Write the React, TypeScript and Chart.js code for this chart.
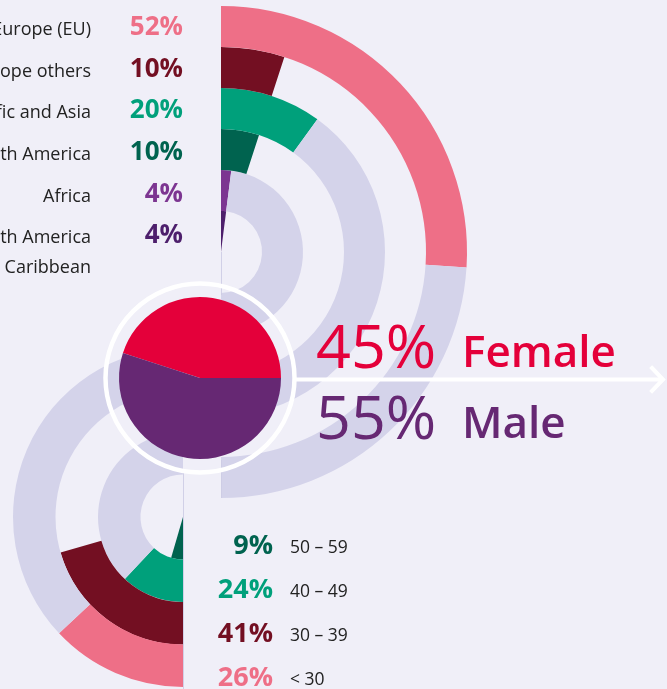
import React, { useEffect, useRef } from "react";
import { Chart, registerables } from "chart.js";

Chart.register(...registerables);

const W = 667;
const H = 689;
const BG = "#f0eff8";
const LAV = "#d4d3ea";
const FONT = "'Open Sans', 'Noto Sans', sans-serif";

// Regions (upper half-rings, outermost first)
const regionLabels = ["Europe (EU)", "Europe others", "Pacific and Asia", "North America", "Africa", "South America\nand Caribbean"];
const regionValues = [52, 10, 20, 10, 4, 4];
const regionColors = ["#ee6f87", "#730f22", "#00a07b", "#00634f", "#7c3591", "#4d1f6c"];
const regionRest = [LAV, "rgba(0,0,0,0)", LAV, "rgba(0,0,0,0)", LAV, "rgba(0,0,0,0)"];

// Age groups (lower half-rings); listed top to bottom as in the legend
const ageLabels = ["50 – 59", "40 – 49", "30 – 39", "< 30"];
const ageValues = [9, 24, 41, 26];
const ageColors = ["#00634f", "#00a07b", "#730f22", "#ee6f87"];
const ageRest = ["rgba(0,0,0,0)", LAV, "rgba(0,0,0,0)", LAV];

// Gender pie
const genderLabels = ["Female", "Male"];
const genderValues = [45, 55];
const genderColors = ["#e4003a", "#662873"];

type TxtProps = {
  x: number;
  y: number;
  size: number;
  weight?: number;
  color: string;
  align?: "left" | "right";
  children: React.ReactNode;
};

function Txt({ x, y, size, weight = 400, color, align = "left", children }: TxtProps) {
  const style: React.CSSProperties = {
    position: "absolute",
    top: y - size * 0.888,
    fontFamily: FONT,
    fontSize: size,
    fontWeight: weight,
    lineHeight: `${size}px`,
    color,
    whiteSpace: "nowrap",
  };
  if (align === "right") {
    style.right = W - x;
    style.textAlign = "right";
  } else {
    style.left = x;
  }
  return <div style={style}>{children}</div>;
}

export default function App() {
  const upRef = useRef<HTMLCanvasElement>(null);
  const lowRef = useRef<HTMLCanvasElement>(null);
  const pieRef = useRef<HTMLCanvasElement>(null);

  useEffect(() => {
    document.body.style.margin = "0";
    document.body.style.background = BG;
    const base: any = {
      responsive: false,
      animation: false,
      events: [],
      plugins: { legend: { display: false }, tooltip: { enabled: false } },
    };

    const upR = 246;
    const up = new Chart(upRef.current!, {
      type: "doughnut",
      data: {
        labels: ["share", "rest"],
        datasets: regionValues.map((v, i) => ({
          data: [v, 100 - v],
          backgroundColor: [regionColors[i], regionRest[i]],
          borderWidth: 0,
        })),
      },
      options: {
        ...base,
        cutout: 0,
        rotation: 0,
        circumference: 180,
        layout: { padding: { left: 221, top: 252 - upR, right: W - 221 - upR, bottom: H - (252 + upR) } },
      },
    });

    const lowR = 170;
    const rings = [...ageValues].reverse();
    const ringColors = [...ageColors].reverse();
    const ringRest = [...ageRest].reverse();
    const low = new Chart(lowRef.current!, {
      type: "doughnut",
      data: {
        labels: ["share", "rest"],
        datasets: rings.map((v, i) => ({
          data: [v, 100 - v],
          backgroundColor: [ringColors[i], ringRest[i]],
          borderWidth: 0,
        })),
      },
      options: {
        ...base,
        cutout: 0,
        rotation: 180,
        circumference: 180,
        layout: { padding: { left: 183 - lowR, top: 517 - lowR, right: W - 183, bottom: H - (517 + lowR) } },
      },
    });

    const cx = 200;
    const cy = 378;
    const pr = 81;
    const ringPlugin = {
      id: "whiteRing",
      beforeDraw(chart: any) {
        const ctx = chart.ctx;
        ctx.save();
        ctx.strokeStyle = "rgba(205,204,228,0.9)";
        ctx.lineWidth = 1;
        ctx.beginPath();
        ctx.moveTo(183.5, 470);
        ctx.lineTo(183.5, H);
        ctx.moveTo(221.5, 252);
        ctx.lineTo(221.5, 295);
        ctx.moveTo(221.5, 460);
        ctx.lineTo(221.5, 498);
        ctx.stroke();
        ctx.restore();
      },
      afterDraw(chart: any) {
        const ctx = chart.ctx;
        ctx.save();
        ctx.strokeStyle = "#ffffff";
        ctx.lineWidth = 4.5;
        ctx.beginPath();
        ctx.arc(cx, cy, 94.5, 0, Math.PI * 2);
        ctx.stroke();
        ctx.lineWidth = 4;
        ctx.beginPath();
        ctx.moveTo(cx + 96, 379.5);
        ctx.lineTo(662, 379.5);
        ctx.stroke();
        ctx.lineCap = "square";
        ctx.beginPath();
        ctx.moveTo(652, 368);
        ctx.lineTo(663, 379.5);
        ctx.lineTo(652, 391);
        ctx.stroke();
        ctx.restore();
      },
    };
    const pie = new Chart(pieRef.current!, {
      type: "pie",
      data: {
        labels: genderLabels,
        datasets: [{ data: genderValues, backgroundColor: genderColors, borderWidth: 0 }],
      },
      options: {
        ...base,
        rotation: -72,
        layout: { padding: { left: cx - pr, top: cy - pr, right: W - (cx + pr), bottom: H - (cy + pr) } },
      },
      plugins: [ringPlugin],
    });

    return () => {
      up.destroy();
      low.destroy();
      pie.destroy();
    };
  }, []);

  const canvasStyle: React.CSSProperties = { position: "absolute", left: 0, top: 0, width: W, height: H };
  const regionBaselines = [35, 77, 118, 160, 202, 243];
  const ageBaselines = [554, 598, 642, 686];

  return (
    <div style={{ position: "fixed", left: 0, top: 0, width: W, height: H, background: BG, overflow: "hidden" }}>
      <canvas ref={upRef} width={W} height={H} style={canvasStyle} />
      <canvas ref={lowRef} width={W} height={H} style={canvasStyle} />
      <canvas ref={pieRef} width={W} height={H} style={canvasStyle} />
      {regionLabels.map((lab, i) =>
        lab.split("\n").map((line, j) => (
          <Txt key={`rl${i}-${j}`} x={91} y={regionBaselines[i] + j * 30} size={18} color="#222" align="right">
            {line}
          </Txt>
        ))
      )}
      {regionValues.map((v, i) => (
        <Txt key={`rv${i}`} x={183} y={regionBaselines[i]} size={26} weight={700} color={regionColors[i]} align="right">
          {v}%
        </Txt>
      ))}
      {ageValues.map((v, i) => (
        <Txt key={`av${i}`} x={273} y={ageBaselines[i]} size={27} weight={700} color={ageColors[i]} align="right">
          {v}%
        </Txt>
      ))}
      {ageLabels.map((lab, i) => (
        <Txt key={`al${i}`} x={290} y={ageBaselines[i]} size={17.5} color="#222">
          {lab}
        </Txt>
      ))}
      <Txt x={316} y={368} size={61} color={genderColors[0]}>
        {genderValues[0]}%
      </Txt>
      <Txt x={462} y={367} size={44} weight={600} color={genderColors[0]}>
        {genderLabels[0]}
      </Txt>
      <Txt x={316} y={439} size={61} color={genderColors[1]}>
        {genderValues[1]}%
      </Txt>
      <Txt x={462} y={438} size={44} weight={600} color={genderColors[1]}>
        {genderLabels[1]}
      </Txt>
    </div>
  );
}
